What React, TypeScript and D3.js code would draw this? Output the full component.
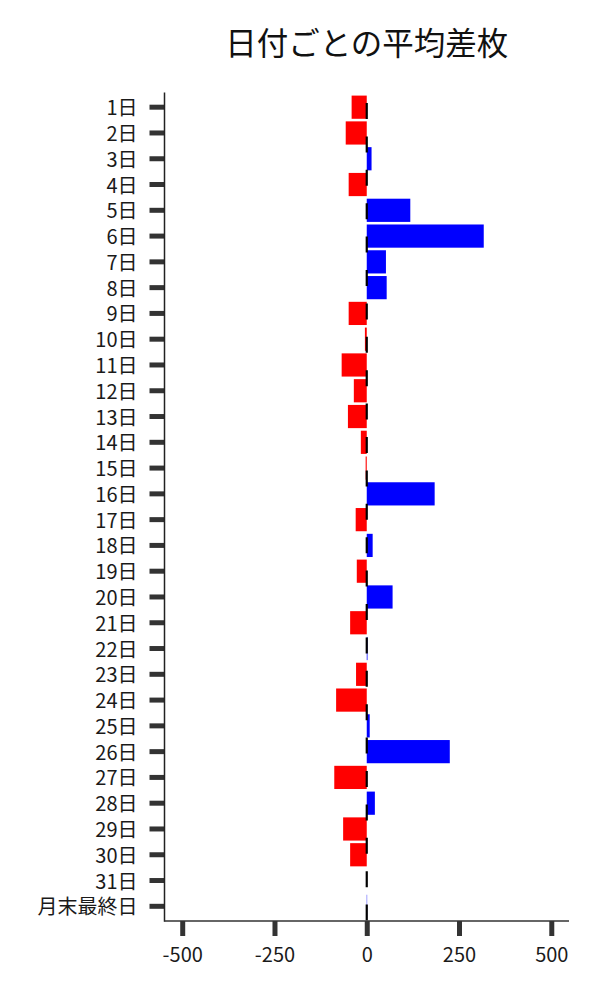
import React, { useEffect, useRef } from 'react';
import * as d3 from 'd3';

const days = [
  '1日', '2日', '3日', '4日', '5日', '6日', '7日', '8日', '9日', '10日',
  '11日', '12日', '13日', '14日', '15日', '16日', '17日', '18日', '19日', '20日',
  '21日', '22日', '23日', '24日', '25日', '26日', '27日', '28日', '29日', '30日',
  '31日', '月末最終日',
];
const avgDiff = [
  -41, -57, 13, -49, 118, 317, 52, 54, -49, -5,
  -68, -35, -51, -16, -3, 184, -30, 16, -27, 70,
  -45, 2, -29, -83, 8, 225, -88, 22, -64, -45,
  0, 1,
];
const xTicks = [-500, -250, 0, 250, 500];
const title = '日付ごとの平均差枚';

const FONT = '"Noto Sans CJK JP", "Noto Sans", sans-serif';

export default function App() {
  const ref = useRef<SVGSVGElement>(null);

  useEffect(() => {
    const svg = d3.select(ref.current);
    svg.selectAll('*').remove();

    const left = 164.5;
    const right = 569;
    const top = 92.5;
    const bottom = 921;

    const x = d3.scaleLinear().domain([-548, 548]).range([left, right]);
    const y = d3
      .scaleBand()
      .domain(days)
      .range([top, bottom])
      .paddingInner(0.1)
      .paddingOuter(0.12);

    // title
    svg
      .append('text')
      .attr('x', (left + right) / 2)
      .attr('y', 55)
      .attr('text-anchor', 'middle')
      .style('font-family', FONT)
      .style('font-size', 31.5)
      .style('fill', '#111')
      .text(title);

    // bars
    svg
      .append('g')
      .selectAll('rect')
      .data(days.map((d, i) => ({ day: d, value: avgDiff[i] })))
      .enter()
      .append('rect')
      .attr('x', (d) => x(Math.min(0, d.value)))
      .attr('y', (d) => y(d.day)!)
      .attr('width', (d) => Math.abs(x(d.value) - x(0)))
      .attr('height', y.bandwidth())
      .attr('fill', (d) => (d.value < 0 ? '#ff0000' : '#0000ff'));

    // dashed zero line
    svg
      .append('line')
      .attr('x1', x(0))
      .attr('x2', x(0))
      .attr('y1', 103)
      .attr('y2', bottom)
      .attr('stroke', '#000')
      .attr('stroke-width', 2.2)
      .attr('stroke-dasharray', '16,17.4');

    // y axis
    const yAxis = svg
      .append('g')
      .attr('transform', `translate(${left},0)`)
      .call(d3.axisLeft(y).tickSize(15).tickPadding(12));
    yAxis.select('.domain').remove();
    yAxis.selectAll('.tick line').attr('stroke', '#333').attr('stroke-width', 5);
    yAxis
      .selectAll('.tick text')
      .attr('dy', '0.4em')
      .style('font-family', FONT)
      .style('font-size', 20)
      .style('fill', '#1a1a1a');

    // x axis
    const xAxis = svg
      .append('g')
      .attr('transform', `translate(0,${bottom})`)
      .call(
        d3
          .axisBottom(x)
          .tickValues(xTicks)
          .tickFormat((d) => String(d))
          .tickSize(15)
          .tickPadding(12)
      );
    xAxis.select('.domain').remove();
    xAxis.selectAll('.tick line').attr('stroke', '#333').attr('stroke-width', 5);
    xAxis
      .selectAll('.tick text')
      .style('font-family', FONT)
      .style('font-size', 20)
      .style('fill', '#1a1a1a');

    // spines
    svg
      .append('line')
      .attr('x1', left)
      .attr('x2', left)
      .attr('y1', top)
      .attr('y2', bottom + 0.75)
      .attr('stroke', '#222')
      .attr('stroke-width', 1.5);
    svg
      .append('line')
      .attr('x1', left)
      .attr('x2', right)
      .attr('y1', bottom)
      .attr('y2', bottom)
      .attr('stroke', '#333')
      .attr('stroke-width', 1.5);
  }, []);

  return (
    <svg
      ref={ref}
      width={600}
      height={1000}
      style={{ position: 'absolute', left: 0, top: 0, background: '#fff' }}
    />
  );
}
